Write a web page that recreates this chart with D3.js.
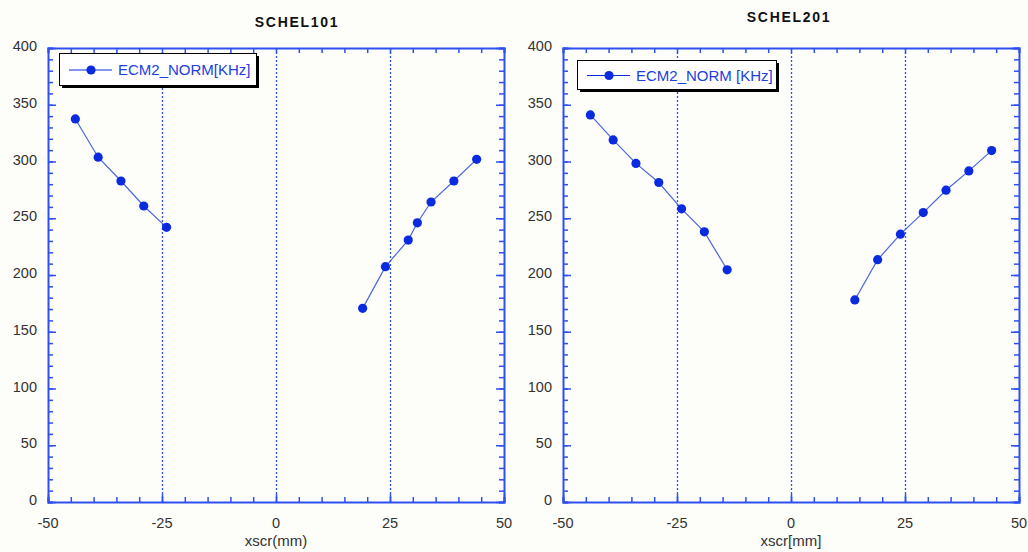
<!DOCTYPE html>
<html>
<head>
<meta charset="utf-8">
<script src="https://cdn.jsdelivr.net/npm/d3@7"></script>
<style>
  body { margin: 0; background: #fdfdf9; }
  svg { display: block; font-family: Arial, "Liberation Sans", sans-serif; }
</style>
</head>
<body>
<svg id="chart" width="1028" height="552"></svg>
<script>
// chart values
const X_TICKS = [-50, -25, 0, 25, 50];
const Y_TICKS = [0, 50, 100, 150, 200, 250, 300, 350, 400];
const GRID_X = [-25, 0, 25];

const S101_LEFT_X = [-44, -39, -34, -29, -24];
const S101_LEFT_Y = [337.5, 303.8, 282.8, 260.8, 242.0];
const S101_RIGHT_X = [19, 24, 29, 31, 34, 39, 44];
const S101_RIGHT_Y = [170.6, 207.3, 230.8, 246.0, 264.3, 282.8, 301.9];

const S201_LEFT_X = [-44, -39, -34, -29, -24, -19, -14];
const S201_LEFT_Y = [341.0, 319.0, 298.3, 281.5, 258.3, 238.0, 204.6];
const S201_RIGHT_X = [14, 19, 24, 29, 34, 39, 44];
const S201_RIGHT_Y = [178.0, 213.5, 236.0, 255.0, 274.7, 291.7, 309.6];

const AXIS_BLUE = '#2f50f0';
const MARK_BLUE = '#0a2ae0';
const LINE_BLUE = '#4a66e0';

const svg = d3.select('#chart');

const panels = [
  {
    title: 'SCHEL101', titleX: 297, titleY: 27,
    xLabel: 'xscr(mm)', legend: 'ECM2_NORM[KHz]',
    left: 48, right: 504,
    legendBox: { x: 59, y: 53, w: 197, h: 32 },
    segments: [[S101_LEFT_X, S101_LEFT_Y], [S101_RIGHT_X, S101_RIGHT_Y]]
  },
  {
    title: 'SCHEL201', titleX: 789, titleY: 22,
    xLabel: 'xscr[mm]', legend: 'ECM2_NORM [KHz]',
    left: 563, right: 1019,
    legendBox: { x: 577, y: 60, w: 199, h: 29 },
    segments: [[S201_LEFT_X, S201_LEFT_Y], [S201_RIGHT_X, S201_RIGHT_Y]]
  }
];

const TOP = 48, BOTTOM = 502;

panels.forEach(p => {
  const x = d3.scaleLinear().domain([-50, 50]).range([p.left, p.right]);
  const y = d3.scaleLinear().domain([0, 400]).range([BOTTOM, TOP]);
  const g = svg.append('g');

  // title
  g.append('text')
    .attr('x', p.titleX).attr('y', p.titleY)
    .attr('text-anchor', 'middle')
    .attr('font-size', '14px')
    .attr('font-weight', 'bold')
    .attr('letter-spacing', '1.7px')
    .attr('fill', '#111')
    .text(p.title);

  // dotted grid at -25, 0, 25
  g.selectAll('.grid').data(GRID_X).enter().append('line')
    .attr('x1', d => Math.round(x(d)) + 0.5).attr('x2', d => Math.round(x(d)) + 0.5)
    .attr('y1', TOP).attr('y2', BOTTOM)
    .attr('stroke', AXIS_BLUE)
    .attr('stroke-width', 1.3)
    .attr('stroke-dasharray', '2,2');

  // axes: ticks pointing inward on all four sides
  const minorX = d3.range(-50, 51, 5);
  const minorY = d3.range(0, 401, 10);

  const axes = [
    [d3.axisBottom(x).tickValues(minorX), `translate(0,${BOTTOM})`],
    [d3.axisTop(x).tickValues(minorX), `translate(0,${TOP})`],
    [d3.axisLeft(y).tickValues(minorY), `translate(${p.left},0)`],
    [d3.axisRight(y).tickValues(minorY), `translate(${p.right},0)`]
  ];
  axes.forEach(([ax, tr]) => {
    const a = g.append('g').attr('transform', tr).call(ax.tickSize(-5).tickFormat(''));
    a.select('.domain').attr('stroke', AXIS_BLUE).attr('stroke-width', 2);
    a.selectAll('.tick line').attr('stroke', AXIS_BLUE).attr('stroke-width', 1.5);
  });

  // longer major ticks
  const majors = [
    [d3.axisLeft(y).tickValues(Y_TICKS), `translate(${p.left},0)`],
    [d3.axisRight(y).tickValues(Y_TICKS), `translate(${p.right},0)`],
    [d3.axisBottom(x).tickValues(X_TICKS), `translate(0,${BOTTOM})`]
  ];
  majors.forEach(([ax, tr]) => {
    g.append('g').attr('transform', tr)
      .call(ax.tickSize(-8).tickFormat(''))
      .call(a => a.select('.domain').remove())
      .selectAll('.tick line').attr('stroke', AXIS_BLUE).attr('stroke-width', 1.5);
  });

  // tick labels
  g.selectAll('.ylab').data(Y_TICKS).enter().append('text')
    .attr('x', p.left - 11).attr('y', d => y(d) + 3)
    .attr('text-anchor', 'end')
    .attr('font-size', '14.5px')
    .attr('fill', '#333')
    .text(d => d);
  g.selectAll('.xlab').data(X_TICKS).enter().append('text')
    .attr('x', d => x(d)).attr('y', 528)
    .attr('text-anchor', 'middle')
    .attr('font-size', '14.5px')
    .attr('fill', '#333')
    .text(d => d);
  g.append('text')
    .attr('x', (p.left + p.right) / 2).attr('y', 546)
    .attr('text-anchor', 'middle')
    .attr('font-size', '15px')
    .attr('fill', '#333')
    .text(p.xLabel);

  // data
  const line = d3.line().x(d => x(d[0])).y(d => y(d[1]));
  p.segments.forEach(([xs, ys]) => {
    const pts = xs.map((v, i) => [v, ys[i]]);
    g.append('path').datum(pts)
      .attr('d', line)
      .attr('fill', 'none')
      .attr('stroke', LINE_BLUE)
      .attr('stroke-width', 1.2);
    g.selectAll(null).data(pts).enter().append('circle')
      .attr('cx', d => x(d[0])).attr('cy', d => y(d[1]))
      .attr('r', 4.6)
      .attr('fill', MARK_BLUE);
  });

  // legend with drop shadow
  const lb = p.legendBox;
  g.append('rect')
    .attr('x', lb.x + 3).attr('y', lb.y + 3)
    .attr('width', lb.w).attr('height', lb.h)
    .attr('fill', '#000');
  g.append('rect')
    .attr('x', lb.x + 0.5).attr('y', lb.y + 0.5)
    .attr('width', lb.w).attr('height', lb.h)
    .attr('fill', '#fff')
    .attr('stroke', '#000');
  const ly = lb.y + lb.h / 2 + 1;
  g.append('line')
    .attr('x1', lb.x + 10).attr('x2', lb.x + 53)
    .attr('y1', ly).attr('y2', ly)
    .attr('stroke', MARK_BLUE).attr('stroke-width', 1.2);
  g.append('circle')
    .attr('cx', lb.x + 32).attr('cy', ly).attr('r', 4.6)
    .attr('fill', MARK_BLUE);
  g.append('text')
    .attr('x', lb.x + 59).attr('y', ly + 5)
    .attr('font-size', '15px')
    .attr('fill', '#2040e0')
    .text(p.legend);
});
</script>
</body>
</html>
